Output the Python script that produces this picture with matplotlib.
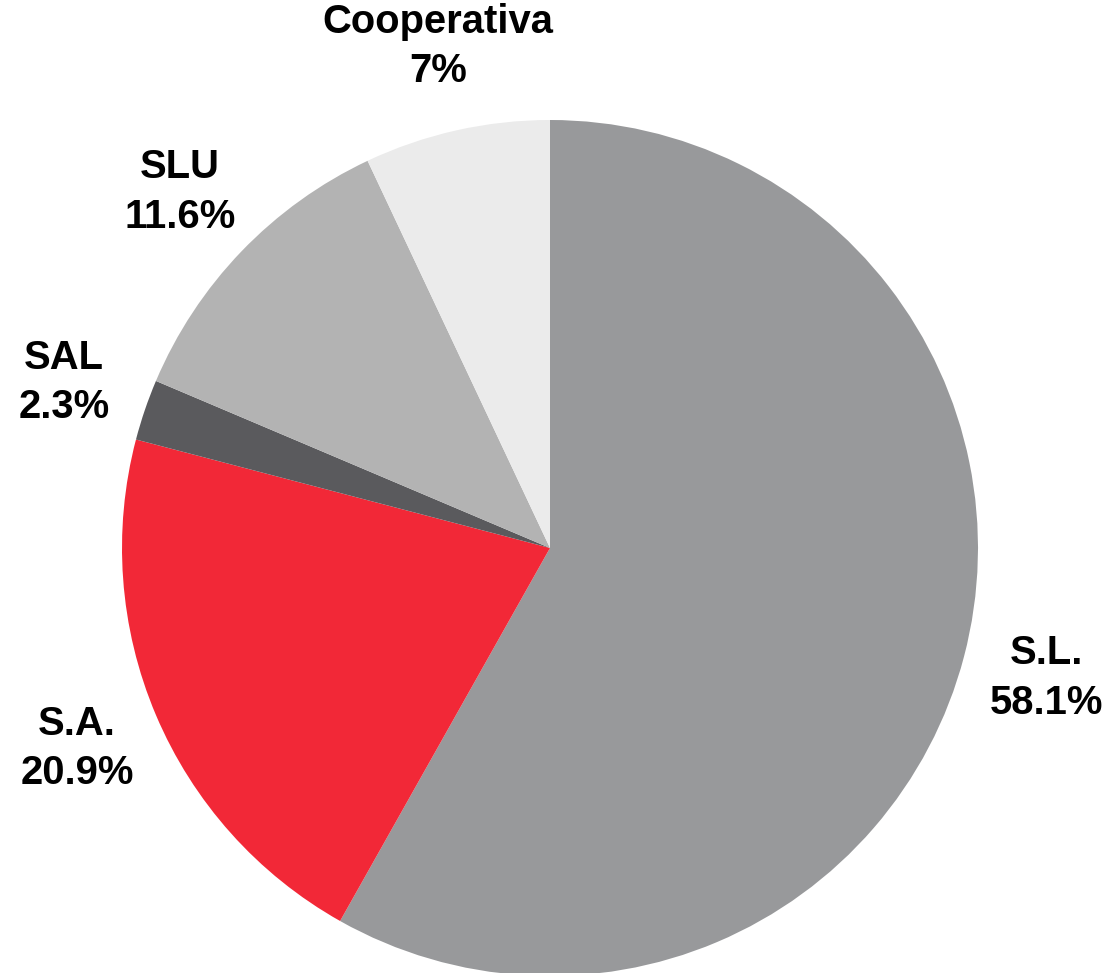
import matplotlib
matplotlib.use("Agg")
from matplotlib import pyplot as plt

# data
labels = ["S.L.", "S.A.", "SAL", "SLU", "Cooperativa"]
shares = [58.1, 20.9, 2.3, 11.6, 7]
colors = ["#98999b", "#f22837", "#5a5a5d", "#b3b3b3", "#ebebeb"]

plt.rcParams["font.family"] = ["Liberation Sans", "DejaVu Sans"]

W, H = 1110, 973
fig = plt.figure(figsize=(W / 100, H / 100), dpi=100)

# pie centre and radius in pixels
cx, cy, r = 550, 548, 428
ax = fig.add_axes([(cx - r) / W, (H - cy - r) / H, 2 * r / W, 2 * r / H])

texts = [f"{lab}\n{val:g}%" for lab, val in zip(labels, shares)]
ax.pie(shares, labels=texts, colors=colors, startangle=90, counterclock=False,
       labeldistance=1.2, radius=1,
       wedgeprops=dict(linewidth=0),
       textprops=dict(ha="center", va="center", fontsize=28.8,
                      fontweight="bold", linespacing=1.38))
ax.set_xlim(-1, 1)
ax.set_ylim(-1, 1)
ax.set_aspect("equal")
ax.axis("off")

fig.savefig("out.png", dpi=100)
